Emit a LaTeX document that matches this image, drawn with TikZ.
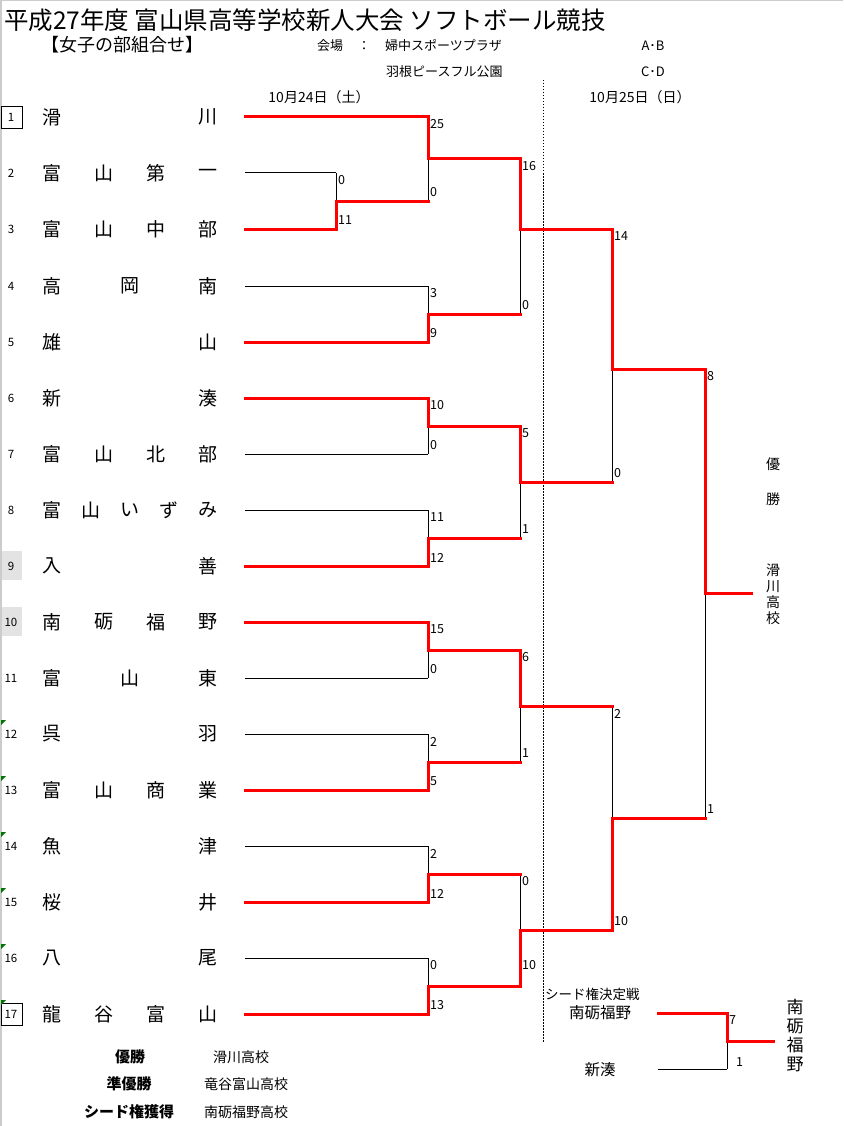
\documentclass[tikz,border=0pt]{standalone}
\usepackage{fontspec}
\setmainfont{Noto Sans CJK JP}
\pgfdeclarelayer{bg}
\pgfsetlayers{bg,main}
\newcommand\fs[1]{\fontsize{#1}{#1}\selectfont}
% game: name, X, ytop, ymid, ybot, winner(1 top / 2 bottom), score top, score bottom, Xout
\newcommand\gm[9]{%
  \coordinate (#1t) at (#2,#3);
  \coordinate (#1) at (#2,#4);
  \coordinate (#1b) at (#2,#5);
  \coordinate (#1o) at (#9,#4);
  \ifnum#6=1
    \begin{pgfonlayer}{bg}\draw[lose] (#1) -- (#1b);\end{pgfonlayer}
    \draw[win] (#1t) -- (#1);
  \else
    \begin{pgfonlayer}{bg}\draw[lose] (#1t) -- (#1);\end{pgfonlayer}
    \draw[win] (#1) -- (#1b);
  \fi
  \draw[win] (#1) -- (#1o);
  \node[sc] (#1st) at ([xshift=2pt,yshift=-7.5pt]#1t) {#7};
  \node[sc] (#1sb) at ([xshift=2pt,yshift=8.5pt]#1b) {#8};
}
% team: index, y, number of chars, chars, line end, won(1/0)
\newcommand\team[6]{%
  \node[num] (n#1) at (11,#2) {#1};
  \foreach \c [count=\k from 0] in {#4} {
    \node[tn] (t#1-\k) at ({52+\k*156/(#3-1)},#2) {\c};
  }
  \coordinate (s#1) at (245,#2);
  \coordinate (e#1) at (#5,#2);
  \ifnum#6=1 \draw[win] (s#1) -- (e#1);
  \else \begin{pgfonlayer}{bg}\draw[lose] (s#1) -- (e#1);\end{pgfonlayer}\fi
}
\begin{document}
\begin{tikzpicture}[x=1pt,y=-1pt,
  win/.style={draw=red, line width=3pt, line cap=rect},
  lose/.style={draw=black, line width=1pt},
  sc/.style={font=\fs{12.5}, inner sep=0pt, anchor=west},
  tn/.style={font=\fs{19}, inner sep=0pt},
  num/.style={font=\fs{11.5}, inner sep=0pt},
  hd/.style={font=\fs{13}, inner sep=0pt},
  gtri/.style={fill=green!45!black, draw=none},
]
\useasboundingbox (0,0) rectangle (843,1126);
\begin{pgfonlayer}{bg}
\fill[white] (0,0) rectangle (843,1126);
\end{pgfonlayer}
% sheet borders
\draw[gray!40, line width=1.5pt] (0.75,0) -- (0.75,1126);
\draw[gray!40, line width=1.5pt] (0,0.75) -- (843,0.75);

% header
\node[font=\fs{24.5}, inner sep=0pt, anchor=west] (title) at (4,20) {平成27年度 富山県高等学校新人大会 ソフトボール競技};
\node[font=\fs{18}, inner sep=0pt] (sub) at (122,45) {【女子の部組合せ】};
\node[hd] (kj) at (330,46) {会場};
\node[hd] (colon) at (364,46) {：};
\node[hd, anchor=west] (v1) at (385,46) {婦中スポーツプラザ};
\node[hd] (ab) at (653,46) {A･B};
\node[hd, anchor=west] (v2) at (386,72) {羽根ピースフル公園};
\node[hd] (cd) at (653,72) {C･D};
\node[font=\fs{14}, inner sep=0pt] (d1) at (319,97) {10月24日（土）};
\node[font=\fs{14}, inner sep=0pt] (d2) at (640,97) {10月25日（日）};

% day separator
\coordinate (sepA) at (543.5,80);
\coordinate (sepB) at (543.5,1042);
\draw[black, line width=0.8pt, dash pattern=on 1.5pt off 1.5pt] (sepA) -- (sepB);

% number cell decorations
\draw[black, line width=0.8pt] (1,106) rectangle (22,128);
\draw[black, line width=0.8pt] (1,1003) rectangle (22,1025);
\begin{pgfonlayer}{bg}
\fill[gray!22] (1,551) rectangle (22,580);
\fill[gray!22] (1,607) rectangle (22,636);
\end{pgfonlayer}
\foreach \yy in {734,790,846,902,958,1014} {
  \fill[gtri] (1,\yy-14) -- (6,\yy-14) -- (1,\yy-9) -- cycle;
}

% teams
\team{1}{117}{2}{滑,川}{428}{1}
\team{2}{173}{4}{富,山,第,一}{336}{0}
\team{3}{229}{4}{富,山,中,部}{336}{1}
\team{4}{286}{3}{高,岡,南}{428}{0}
\team{5}{342}{2}{雄,山}{428}{1}
\team{6}{398}{2}{新,湊}{428}{1}
\team{7}{454}{4}{富,山,北,部}{428}{0}
\team{8}{510}{5}{富,山,い,ず,み}{428}{0}
\team{9}{566}{2}{入,善}{428}{1}
\team{10}{622}{4}{南,砺,福,野}{428}{1}
\team{11}{678}{3}{富,山,東}{428}{0}
\team{12}{734}{2}{呉,羽}{428}{0}
\team{13}{790}{4}{富,山,商,業}{428}{1}
\team{14}{846}{2}{魚,津}{428}{0}
\team{15}{902}{2}{桜,井}{428}{1}
\team{16}{958}{2}{八,尾}{428}{0}
\team{17}{1014}{4}{龍,谷,富,山}{428}{1}

% games
\gm{ga}{336}{173}{201}{229}{2}{0}{11}{428}
\gm{g1}{428}{117}{159}{201}{1}{25}{0}{520}
\gm{g2}{428}{286}{314}{342}{2}{3}{9}{520}
\gm{g3}{428}{398}{426}{454}{1}{10}{0}{520}
\gm{g4}{428}{510}{538}{566}{2}{11}{12}{520}
\gm{g5}{428}{622}{650}{678}{1}{15}{0}{520}
\gm{g6}{428}{734}{762}{790}{2}{2}{5}{520}
\gm{g7}{428}{846}{874}{902}{2}{2}{12}{520}
\gm{g8}{428}{958}{986}{1014}{2}{0}{13}{520}
\gm{h1}{520}{159}{229}{314}{1}{16}{0}{612}
\gm{h2}{520}{426}{482}{538}{1}{5}{1}{612}
\gm{h3}{520}{650}{706}{762}{1}{6}{1}{612}
\gm{h4}{520}{874}{930}{986}{2}{0}{}{612}
\node[sc] (h4sx) at (522,965) {10};
\gm{i1}{612}{229}{369}{482}{1}{14}{0}{705}
\gm{i2}{612}{706}{818}{930}{2}{2}{10}{705}
\gm{fin}{705}{369}{593}{818}{1}{8}{1}{751}

% champion
\node[font=\fs{14}, inner sep=0pt] (yu) at (773,464) {優};
\node[font=\fs{14}, inner sep=0pt] (sho) at (773,499) {勝};
\node[font=\fs{14}, inner sep=0pt, align=center] (champ) at (773,594)
  {滑\\[2pt]川\\[2pt]高\\[2pt]校};

% seed playoff
\node[font=\fs{13.5}, inner sep=0pt, anchor=west] (sdt) at (545,994) {シード権決定戦};
\node[font=\fs{15.5}, inner sep=0pt] (sA) at (600,1013) {南砺福野};
\node[font=\fs{15.5}, inner sep=0pt] (sB) at (600,1070) {新湊};
\coordinate (sAs) at (658,1013);
\coordinate (sBs) at (658,1069);
\draw[win] (sAs) -- (727,1013);
\begin{pgfonlayer}{bg}\draw[lose] (sBs) -- (727,1069);\end{pgfonlayer}
\gm{sd}{727}{1013}{1041}{1069}{1}{7}{}{773}
\node[sc] (sdsx) at (736,1062) {1};
\node[font=\fs{17}, inner sep=0pt, align=center] (seedw) at (795,1036)
  {南\\[2pt]砺\\[2pt]福\\[2pt]野};

% results
\node[font=\fs{15}\bfseries, inner sep=0pt] (r1l) at (130,1057) {優勝};
\node[font=\fs{14}, inner sep=0pt] (r1v) at (241,1057) {滑川高校};
\node[font=\fs{15}\bfseries, inner sep=0pt] (r2l) at (129,1084) {準優勝};
\node[font=\fs{14}, inner sep=0pt] (r2v) at (246,1084) {竜谷富山高校};
\node[font=\fs{15}\bfseries, inner sep=0pt] (r3l) at (129,1112) {シード権獲得};
\node[font=\fs{14}, inner sep=0pt] (r3v) at (246,1112) {南砺福野高校};
\end{tikzpicture}
\end{document}
